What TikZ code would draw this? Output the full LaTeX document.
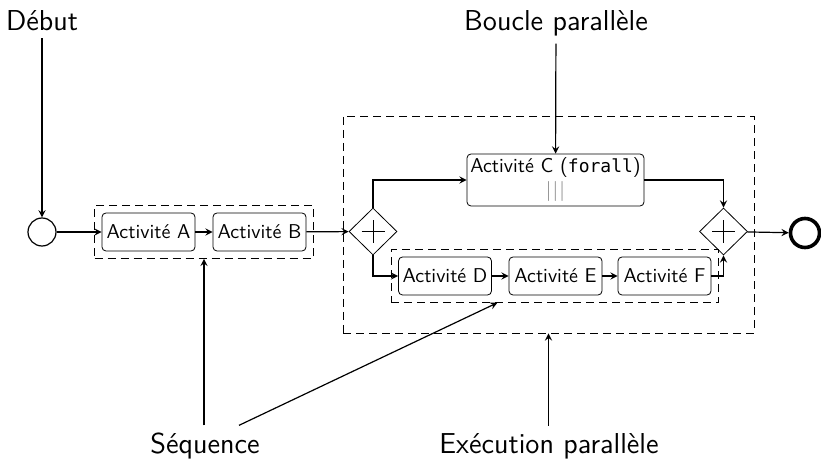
\documentclass[tikz,border=0pt]{standalone}
\usepackage{fontspec}
\setmonofont[Scale=0.9]{DejaVu Sans Mono}
\usetikzlibrary{shapes.geometric,fit,arrows,calc}
\renewcommand{\familydefault}{\sfdefault}

\tikzset{
    act/.style={draw, rounded corners=2pt, minimum width=46.5pt, minimum height=19pt, inner sep=1pt, font=\normalsize},
    gate/.style={draw, diamond, aspect=1, minimum width=24pt, minimum height=23.5pt, inner sep=0pt,
        path picture={\draw ([xshift=-5.75pt]path picture bounding box.center) -- ([xshift=5.75pt]path picture bounding box.center);
                      \draw ([yshift=-5.75pt]path picture bounding box.center) -- ([yshift=5.75pt]path picture bounding box.center);}},
    dashbox/.style={draw, dash pattern=on 4pt off 2.5pt, inner sep=3.5pt},
    lbl/.style={font=\Large, anchor=base},
    flow/.style={->, semithick},
}

\begin{document}
\begin{tikzpicture}[
    x=0.5pt, y=-0.5pt,
    >=stealth
]
    \useasboundingbox (0,0) rectangle (821,460);

    % --- Events ---
    \node[draw, circle, semithick, minimum size=14pt, inner sep=0pt] (start) at (42,232) {};
    \node[draw, circle, line width=1.8pt, minimum size=14.5pt, inner sep=0pt] (end) at (805,233) {};

    % --- First sequence ---
    \node[act] (actA) at (148.5,232) {Activité A};
    \node[act] (actB) at (259.5,232) {Activité B};
    \node[dashbox, fit=(actA) (actB)] (seqAB) {};

    % --- Parallel part ---
    \node[gate] (split) at (373,231.5) {};
    \node[gate] (join) at (723.5,231.5) {};
    \node[act, minimum width=88.5pt, minimum height=26pt, inner sep=0pt, align=center] (actC) at (555.5,180)
        {Activité C (\texttt{forall})\\[0pt] {\color{gray}|\kern0.6pt|\kern0.6pt|}};
    \node[act] (actD) at (445,276) {Activité D};
    \node[act] (actE) at (555.5,276) {Activité E};
    \node[act] (actF) at (664.5,276) {Activité F};
    \node[dashbox, fit=(actD) (actF)] (seqDF) {};
    \node[dashbox, minimum width=205.5pt, minimum height=108.5pt, inner sep=0pt] (par) at (548.5,224.5) {};

    % --- Flows ---
    \draw[flow] (start) -- (actA);
    \draw[flow] (actA) -- (actB);
    \draw[flow] (actB) -- (split);
    \draw[flow] (split.north) |- (actC.west);
    \draw[flow] (actC.east) -| (join.north);
    \draw[flow] (split.south) |- (actD.west);
    \draw[flow] (actD) -- (actE);
    \draw[flow] (actE) -- (actF);
    \draw[flow] (actF.east) -| (join.south);
    \draw[flow] (join) -- (end);

    % --- Labels ---
    \node[lbl] (debut) at (42,31) {Début};
    \node[lbl] (boucle) at (556,31) {Boucle parallèle};
    \node[lbl] (sequence) at (205,453) {Séquence};
    \node[lbl] (execpar) at (549,453) {Exécution parallèle};

    \draw[flow] (debut) -- (start);
    \draw[flow] (boucle) -- (actC);
    \draw[flow] (sequence.north -| seqAB.south) -- (seqAB.south);
    \draw[flow] ([xshift=17pt]sequence.north) -- ($(seqDF.south west)!0.325!(seqDF.south east)$);
    \draw[flow] (execpar.north -| par.south) -- (par.south);

\end{tikzpicture}
\end{document}
